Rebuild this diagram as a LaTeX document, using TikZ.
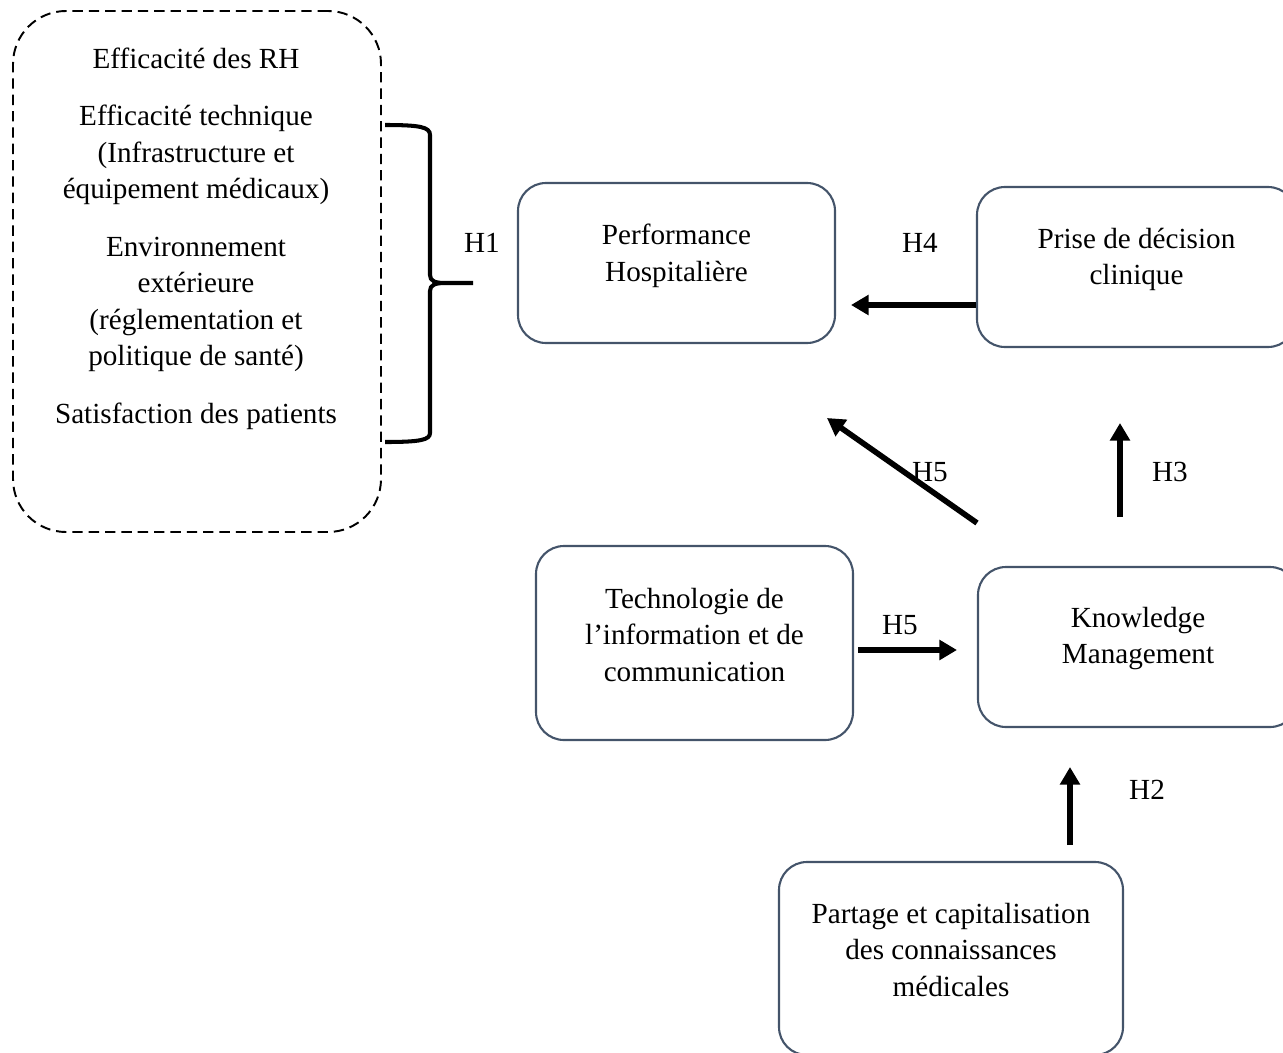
\documentclass[tikz,border=0pt]{standalone}
\usepackage{fontspec}
\setmainfont{Liberation Serif}
\usepackage{xcolor}
\usetikzlibrary{arrows.meta,positioning,calc}

\definecolor{bordure}{HTML}{44546A}

\tikzset{
  boite/.style={draw=bordure, line width=1.2pt, rounded corners=0.56cm},
  texte/.style={align=center, inner sep=0pt},
  cadre/.style={draw, line width=1.1pt, dash pattern=on 5.9pt off 3.4pt, rounded corners=1.06cm},
  accolade/.style={line width=2.3pt},
  fleche/.style={line width=3.2pt, -{Triangle[length=10pt,width=11pt]}},
  hyp/.style={inner sep=0pt}
}

\begin{document}
\begin{tikzpicture}[font=\fontsize{16.6pt}{20.7pt}\selectfont]
\useasboundingbox (0,0) rectangle (25.66,-21.04);

% Facteurs de performance
\node[cadre, minimum width=7.36cm, minimum height=10.42cm] (facteurs) at (3.94,-5.43) {};
\node[texte] (liste) at (3.92,-4.77) {Efficacité des RH\\[12.2pt]
  Efficacité technique\\(Infrastructure et\\équipement médicaux)\\[12.2pt]
  Environnement\\extérieure\\(réglementation et\\politique de santé)\\[12.2pt]
  Satisfaction des patients};

% Accolade
\coordinate (bhaut) at (7.7,-2.5);
\coordinate (bbas) at (7.7,-8.84);
\coordinate (pointe) at (9.46,-5.66);
\draw[accolade] (bhaut) .. controls (8.4,-2.5) and (8.6,-2.54) .. (8.6,-2.7)
  -- (8.6,-5.5) .. controls (8.6,-5.62) and (8.7,-5.66) .. (8.9,-5.66) -- (pointe)
  -- (8.9,-5.66) .. controls (8.7,-5.66) and (8.6,-5.7) .. (8.6,-5.82)
  -- (8.6,-8.66) .. controls (8.6,-8.8) and (8.4,-8.84) .. (bbas);
\node[hyp] (h1) at (9.64,-4.86) {H1};

% Boites
\node[boite, minimum width=6.34cm, minimum height=3.2cm] (perf) at (13.53,-5.26) {};
\node[texte, yshift=0.14cm] (perft) at (perf) {Performance\\Hospitalière};

\node[boite, minimum width=6.38cm, minimum height=3.2cm] (prise) at (22.73,-5.34) {};
\node[texte, yshift=0.15cm] (priset) at (prise) {Prise de décision\\clinique};

\node[boite, minimum width=6.34cm, minimum height=3.88cm] (tic) at (13.89,-12.86) {};
\node[texte, yshift=0.16cm] (tict) at (tic) {Technologie de\\l’information et de\\communication};

\node[boite, minimum width=6.4cm, minimum height=3.2cm] (km) at (22.76,-12.94) {};
\node[texte, yshift=0.17cm] (kmt) at (km) {Knowledge\\Management};

\node[boite, minimum width=6.88cm, minimum height=3.86cm] (partage) at (19.02,-19.17) {};
\node[texte, yshift=0.17cm] (partaget) at (partage) {Partage et capitalisation\\des connaissances\\médicales};

% Hypotheses
\coordinate (h4d) at ([yshift=-0.76cm]prise.west);
\coordinate (h4a) at (17.02,-6.1);
\draw[fleche] (h4d) -- (h4a);
\node[hyp] (h4) at (18.4,-4.86) {H4};

\coordinate (h5d) at (19.54,-10.46);
\coordinate (h5a) at (16.54,-8.36);
\draw[fleche] (h5d) -- (h5a);
\node[hyp] (h5) at (18.6,-9.44) {H5};

\coordinate (h3d) at (22.4,-10.34);
\coordinate (h3a) at (22.4,-8.46);
\draw[fleche] (h3d) -- (h3a);
\node[hyp] (h3) at (23.4,-9.44) {H3};

\coordinate (h5bd) at (17.16,-13.0);
\coordinate (h5ba) at (19.14,-13.0);
\draw[fleche] (h5bd) -- (h5ba);
\node[hyp] (h5b) at (18.0,-12.5) {H5};

\coordinate (h2d) at (21.4,-16.9);
\coordinate (h2a) at (21.4,-15.34);
\draw[fleche] (h2d) -- (h2a);
\node[hyp] (h2) at (22.94,-15.8) {H2};
\end{tikzpicture}
\end{document}
